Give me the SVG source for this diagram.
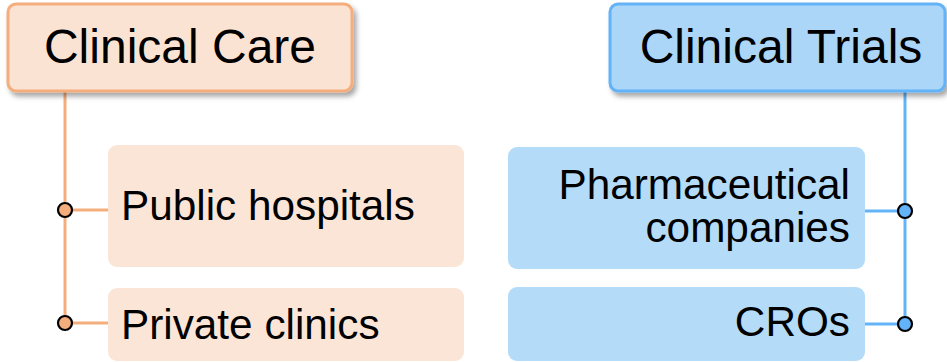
<svg xmlns="http://www.w3.org/2000/svg" width="947" height="362" viewBox="0 0 947 362">
  <defs>
    <filter id="shadow" x="-10%" y="-20%" width="130%" height="160%">
      <feDropShadow dx="3" dy="4" stdDeviation="2.5" flood-color="#000" flood-opacity="0.35"/>
    </filter>
  </defs>
  <style>
    text { font-family: "Liberation Sans", Arial, sans-serif; fill: #000; }
    .head { font-size: 48px; text-anchor: middle; }
    .item { font-size: 42.3px; }
    .care-head { fill: #fbe3d4; stroke: #f4ae7e; stroke-width: 3; }
    .care-item { fill: #fbe5d7; }
    .trial-head { fill: #acd6f7; stroke: #62b3f7; stroke-width: 3; }
    .trial-item { fill: #b4dbf8; }
    .care-line { stroke: #f4ae7e; stroke-width: 3; fill: none; }
    .trial-line { stroke: #62b3f7; stroke-width: 3; fill: none; }
    .care-dot { fill: #f4ae7e; stroke: #000; stroke-width: 2.2; }
    .trial-dot { fill: #62b3f7; stroke: #000; stroke-width: 2.2; }
  </style>

  <!-- connectors -->
  <g id="connectors">
    <path class="care-line" d="M65 92 V323 M65 210 H108 M65 323 H108"/>
    <path class="trial-line" d="M905 92 V324 M865 211 H905 M865 324 H905"/>
    <circle class="care-dot" cx="65" cy="210" r="7"/>
    <circle class="care-dot" cx="65" cy="323" r="7"/>
    <circle class="trial-dot" cx="905" cy="211" r="7"/>
    <circle class="trial-dot" cx="905" cy="324" r="7"/>
  </g>

  <!-- left branch -->
  <g id="clinical-care">
    <rect class="care-head" x="8" y="4" width="344" height="87" rx="8" filter="url(#shadow)"/>
    <text class="head" x="180" y="63">Clinical Care</text>
  </g>
  <g id="public-hospitals">
    <rect class="care-item" x="108" y="145" width="356" height="122" rx="9"/>
    <text class="item" x="121" y="220">Public hospitals</text>
  </g>
  <g id="private-clinics">
    <rect class="care-item" x="108" y="288" width="356" height="73" rx="9"/>
    <text class="item" x="121" y="339">Private clinics</text>
  </g>

  <!-- right branch -->
  <g id="clinical-trials">
    <rect class="trial-head" x="610" y="4" width="335" height="87" rx="8" filter="url(#shadow)"/>
    <text class="head" x="781" y="63">Clinical Trials</text>
  </g>
  <g id="pharmaceutical-companies">
    <rect class="trial-item" x="508" y="147" width="357" height="122" rx="9"/>
    <text class="item" x="850" y="199" text-anchor="end">Pharmaceutical</text>
    <text class="item" x="850" y="242" text-anchor="end">companies</text>
  </g>
  <g id="cros">
    <rect class="trial-item" x="508" y="287" width="357" height="74" rx="9"/>
    <text class="item" x="850" y="336" text-anchor="end">CROs</text>
  </g>
</svg>
